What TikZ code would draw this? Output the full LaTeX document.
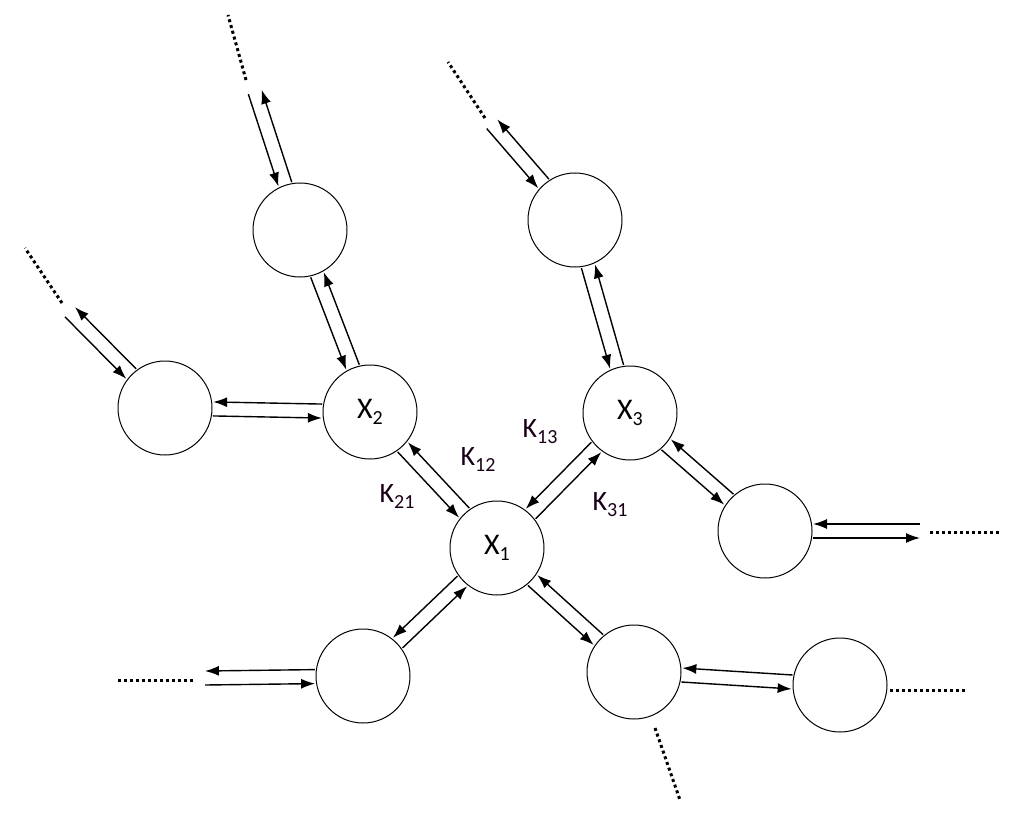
\documentclass[tikz,border=0pt]{standalone}
\usepackage{fontspec}
\setmainfont{Carlito}
\usetikzlibrary{calc,arrows.meta}
\tikzset{
  circ/.style={circle,draw,line width=1pt,minimum size=94pt,inner sep=0pt,font=\fontsize{30}{32}\selectfont},
  arr/.style={line width=1.4pt,-{Latex[length=14pt,width=10pt]}},
  dots/.style={line width=3pt,dash pattern=on 3pt off 3pt},
  lab/.style={font=\fontsize{28}{30}\selectfont,text=black!80!violet}
}
\newcommand{\sbs}[1]{\raisebox{-6pt}{\fontsize{20}{22}\selectfont #1}}
\newcommand{\bidir}[4]{%
  \draw[arr] ($(#1)!#3!(#2)!7pt!-90:(#2)$) -- ($(#2)!#4!(#1)!7pt!90:(#1)$);
  \draw[arr] ($(#2)!#4!(#1)!7pt!-90:(#1)$) -- ($(#1)!#3!(#2)!7pt!90:(#2)$);}
\begin{document}
\begin{tikzpicture}[x=1pt,y=-1pt]
\useasboundingbox (0,0) rectangle (1024,834);
\node[circ] (x1) at (497,548) {X\sbs{1}};
\node[circ] (x2) at (370,412) {X\sbs{2}};
\node[circ] (x3) at (630,413) {X\sbs{3}};
\node[circ] (tl) at (300,230) {};
\node[circ] (l) at (165,408) {};
\node[circ] (t3) at (575,220) {};
\node[circ] (r3) at (765,531) {};
\node[circ] (bl) at (363,676) {};
\node[circ] (br) at (634,672) {};
\node[circ] (fr) at (840,685) {};
\coordinate (e1) at (255,92);
\coordinate (e2) at (70,312);
\coordinate (e3) at (492,124);
\coordinate (e4) at (920,531);
\coordinate (e5) at (205,678);
\bidir{x1}{x2}{48pt}{48pt}
\bidir{x1}{x3}{48pt}{48pt}
\bidir{x1}{bl}{48pt}{48pt}
\bidir{x1}{br}{48pt}{48pt}
\bidir{br}{fr}{48pt}{48pt}
\bidir{x2}{tl}{48pt}{48pt}
\bidir{x2}{l}{48pt}{48pt}
\bidir{x3}{t3}{48pt}{48pt}
\bidir{x3}{r3}{48pt}{48pt}
\bidir{tl}{e1}{48pt}{0pt}
\bidir{l}{e2}{48pt}{0pt}
\bidir{t3}{e3}{48pt}{0pt}
\bidir{r3}{e4}{48pt}{0pt}
\bidir{bl}{e5}{48pt}{0pt}
\coordinate (d1a) at (246,80); \coordinate (d1b) at (228,15);
\coordinate (d2a) at (62,303); \coordinate (d2b) at (25,248);
\coordinate (d3a) at (485,118); \coordinate (d3b) at (448,62);
\coordinate (d4a) at (930,532); \coordinate (d4b) at (1000,532);
\coordinate (d5a) at (193,680); \coordinate (d5b) at (118,680);
\coordinate (d6a) at (655,728); \coordinate (d6b) at (680,800);
\coordinate (d7a) at (890,690); \coordinate (d7b) at (965,690);
\foreach \a/\b in {d1a/d1b,d2a/d2b,d3a/d3b,d4a/d4b,d5a/d5b,d6a/d6b,d7a/d7b}
  \draw[dots] (\a) -- (\b);
\node[lab] (k12) at (478,460) {K\sbs{12}};
\node[lab] (k21) at (397,497) {K\sbs{21}};
\node[lab] (k13) at (540,432) {K\sbs{13}};
\node[lab] (k31) at (610,505) {K\sbs{31}};
\end{tikzpicture}
\end{document}
